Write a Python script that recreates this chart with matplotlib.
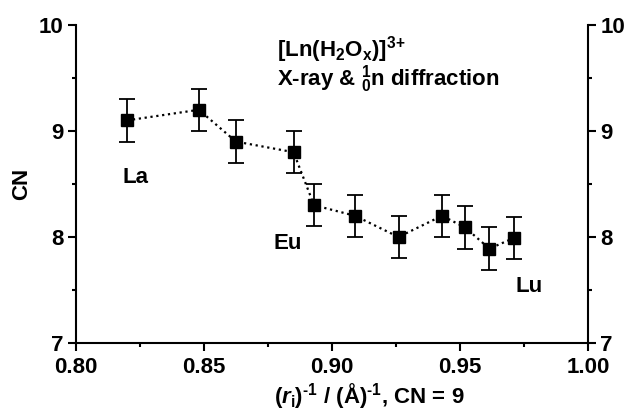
import matplotlib
matplotlib.use("Agg")
import matplotlib.pyplot as plt
from matplotlib.ticker import MultipleLocator

plt.rcParams['font.family'] = ['Liberation Sans', 'DejaVu Sans']
plt.rcParams['font.weight'] = 'bold'
plt.rcParams['mathtext.fontset'] = 'custom'
plt.rcParams['mathtext.rm'] = 'Liberation Sans:bold'
plt.rcParams['mathtext.it'] = 'Liberation Sans:italic:bold'
plt.rcParams['mathtext.bf'] = 'Liberation Sans:bold'
plt.rcParams['mathtext.default'] = 'rm'

# data
inv_radius = [0.820, 0.848, 0.8625, 0.885, 0.893, 0.909, 0.926, 0.943, 0.952, 0.9615, 0.971]
cn = [9.10, 9.20, 8.90, 8.80, 8.30, 8.20, 8.00, 8.20, 8.09, 7.89, 7.99]
cn_err = [0.2] * 11
labels = ["La", "Eu", "Lu"]
label_x = [0.8182, 0.8773, 0.9715]
label_y = [8.56, 7.94, 7.53]

FS = 16

fig = plt.figure(figsize=(6.38, 4.13), dpi=100)
ax = fig.add_axes([0.119, 0.1695, 0.8026, 0.77])

ax.plot(inv_radius, cn, linestyle=':', color='black', linewidth=1.6, zorder=2)
ax.errorbar(inv_radius, cn, yerr=cn_err, fmt='s', color='black', markersize=9,
            capsize=5.8, elinewidth=1.3, capthick=1.3, zorder=3)

for t, x, y in zip(labels, label_x, label_y):
    ax.text(x, y, t, fontsize=FS, fontweight='bold', ha='left', va='center')

ax.text(0.8785, 9.625,
        "[Ln(H$_2$O$_\\mathrm{x}$)]$^{\\text{3+}}$\nX-ray & ${}^{1}_{0}$n diffraction",
        fontsize=FS, ha='left', va='center', linespacing=0.92)

ax.set_xlim(0.80, 1.00)
ax.set_ylim(7, 10)
ax.xaxis.set_major_locator(MultipleLocator(0.05))
ax.xaxis.set_minor_locator(MultipleLocator(0.025))
ax.yaxis.set_major_locator(MultipleLocator(1))
ax.yaxis.set_minor_locator(MultipleLocator(0.5))
ax.xaxis.set_major_formatter(matplotlib.ticker.FormatStrFormatter('%.2f'))

ax.spines['top'].set_visible(False)
for s in ['left', 'right', 'bottom']:
    ax.spines[s].set_linewidth(1.5)

ax.tick_params(axis='both', which='major', direction='out', length=6, width=1.5,
               labelsize=FS)
ax.tick_params(axis='both', which='minor', direction='out', length=3, width=1.5)
ax.tick_params(axis='y', which='both', left=True, right=True, labelleft=True, labelright=True)
ax.tick_params(axis='y', which='major', pad=3)
ax.tick_params(axis='x', which='major', pad=4)
for lab in ax.get_xticklabels() + ax.get_yticklabels():
    lab.set_fontweight('bold')

ax.set_ylabel("CN", fontsize=FS, fontweight='bold')
ax.yaxis.set_label_coords(-0.085, 0.5)
fig.text(0.578, 0.022, r"($\mathit{r}_\mathrm{i}$)$^{\text{-1}}$ / (Å)$^{\text{-1}}$, CN = 9",
         fontsize=FS, fontweight='bold', ha='center', va='baseline')

fig.savefig("out.png", dpi=100)
